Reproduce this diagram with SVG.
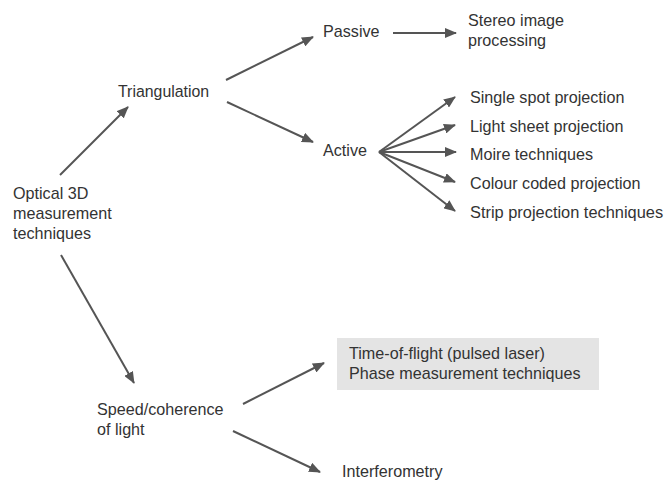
<svg xmlns="http://www.w3.org/2000/svg" width="668" height="481" viewBox="0 0 668 481">
<style>
text{font-family:"Liberation Sans",Arial,sans-serif;font-size:17px;fill:#333}
.c line{stroke:#555;stroke-width:2;marker-end:url(#ah)}
</style>
<defs>
<marker id="ah" viewBox="0 0 12 10" refX="11" refY="5" markerWidth="12" markerHeight="10" markerUnits="userSpaceOnUse" orient="auto">
<path d="M0,0 L12,5 L0,10 z" fill="#555"/>
</marker>
</defs>
<rect width="668" height="481" fill="#fff"/>
<g class="c" id="connectors">
<line x1="60" y1="175" x2="128" y2="107"/>
<line x1="226" y1="80" x2="313" y2="37"/>
<line x1="227" y1="102" x2="313" y2="142"/>
<line x1="393" y1="33" x2="456" y2="33"/>
<line x1="379" y1="152" x2="455" y2="97"/>
<line x1="379" y1="152" x2="455" y2="125"/>
<line x1="379" y1="152" x2="456" y2="152"/>
<line x1="379" y1="152" x2="455" y2="182"/>
<line x1="379" y1="152" x2="455" y2="211"/>
<line x1="61" y1="255" x2="134" y2="383"/>
<line x1="243" y1="404" x2="324" y2="363"/>
<line x1="233" y1="431" x2="320" y2="472"/>
</g>
<g id="optical"><text transform="translate(13 199) scale(.95 1)">Optical 3D</text><text transform="translate(13 219) scale(.95 1)">measurement</text><text transform="translate(13 239) scale(.95 1)">techniques</text></g>
<g id="triangulation"><text transform="translate(118 97) scale(.935 1)">Triangulation</text></g>
<g id="passive"><text transform="translate(323 37) scale(.95 1)">Passive</text></g>
<g id="stereo"><text transform="translate(468 26) scale(.95 1)">Stereo image</text><text transform="translate(468 46) scale(.95 1)">processing</text></g>
<g id="active"><text transform="translate(323 156) scale(.95 1)">Active</text></g>
<g id="single"><text transform="translate(470 103) scale(.95 1)">Single spot projection</text></g>
<g id="lightsheet"><text transform="translate(470 132) scale(.95 1)">Light sheet projection</text></g>
<g id="moire"><text transform="translate(470 160) scale(.95 1)">Moire techniques</text></g>
<g id="colour"><text transform="translate(470 189) scale(.95 1)">Colour coded projection</text></g>
<g id="strip"><text transform="translate(470 218) scale(.965 1)">Strip projection techniques</text></g>
<g id="speed"><text transform="translate(97 415) scale(.95 1)">Speed/coherence</text><text transform="translate(97 435) scale(.95 1)">of light</text></g>
<g id="tof"><rect x="337" y="338" width="262" height="52" fill="#e4e4e4"/><text transform="translate(349 359) scale(.95 1)">Time-of-flight (pulsed laser)</text><text transform="translate(349 379) scale(.95 1)">Phase measurement techniques</text></g>
<g id="interferometry"><text transform="translate(342 477) scale(.95 1)">Interferometry</text></g>
</svg>
